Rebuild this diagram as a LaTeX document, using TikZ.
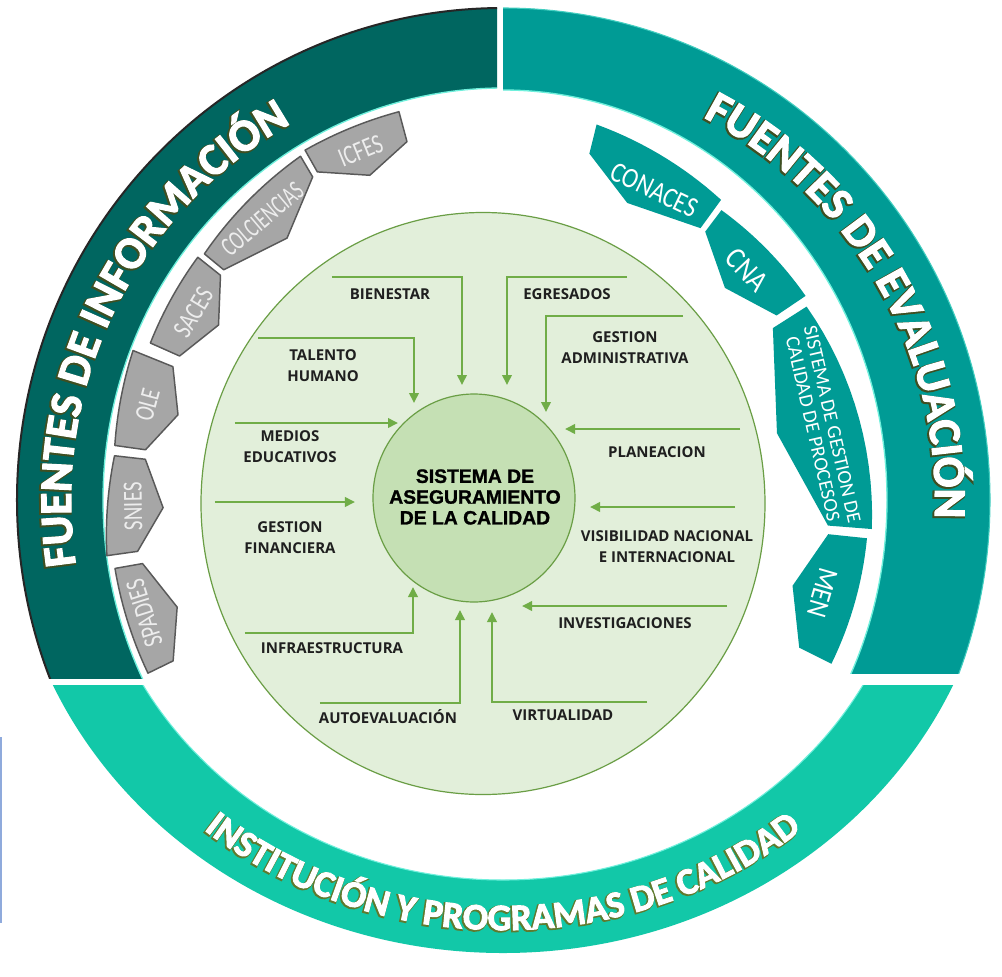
\documentclass[tikz,border=0pt]{standalone}
\usepackage{fontspec}
\usepackage{graphicx}
\usetikzlibrary{decorations.text,arrows.meta,shapes.geometric}
\newfontfamily\carlito{Carlito}
\newfontfamily\osans{Open Sans}
\newfontface\corefont[FakeBold=1.2]{Liberation Sans Bold}
\newfontface\ringfill[FakeBold=2.5]{Carlito Bold}
\newfontface\ringline[FakeBold=7]{Carlito Bold}
\definecolor{darkteal}{HTML}{006660}
\definecolor{midteal}{HTML}{009B95}
\definecolor{brightteal}{HTML}{12C8A8}
\definecolor{tabgray}{HTML}{A6A6A6}
\definecolor{tabedge}{HTML}{595959}
\definecolor{paleg}{HTML}{E2EFDA}
\definecolor{midg}{HTML}{C5E0B4}
\definecolor{arrowg}{HTML}{70AD47}
\definecolor{edgeg}{HTML}{6A9E45}
\definecolor{olivec}{HTML}{3E4F22}
\definecolor{olivel}{HTML}{5F7A2E}
\definecolor{glowc}{HTML}{6FF0DC}
\definecolor{stripblue}{HTML}{8FAADC}
\newcommand\ringbigA{\ringfill\fontsize{34}{40}\selectfont}
\newcommand\ringbigB{\ringline\fontsize{34}{40}\selectfont}
\newcommand\ringlowA{\ringfill\fontsize{28}{32}\selectfont}
\newcommand\ringlowB{\ringline\fontsize{28}{32}\selectfont}
\newcommand\tabshape[9]{%
  \path[#1] plot[domain=#2:#3, samples=16] (\x:{#4+(#5-#4)*(\x-(#2))/((#3)-(#2))}) -- (#3:#7) -- (#8:#9) -- (#2:#6) -- cycle;}
\begin{document}
\begin{tikzpicture}[x=0.75pt,y=0.75pt,
  graytab/.style={fill=tabgray, draw=tabedge, line width=1.1pt, line join=round},
  tealtab/.style={fill=midteal},
  flow/.style={draw=arrowg, line width=1.9pt, -{Triangle[length=7.5pt,width=7pt]}},
  lbl/.style={font=\osans\bfseries\fontsize{11.25}{15.75}\selectfont, align=center, text=black!88, inner sep=0pt},
  graylbl/.style={text=white!93!black, inner sep=0pt, font=\carlito\fontsize{16.5}{18}\selectfont},
  teallbl/.style={text=white, inner sep=0pt},
]
\useasboundingbox (-503,-476) rectangle (499,500);
\fill[white] (-503,-476) rectangle (499,500);
\fill[stripblue] (-503,-237) rectangle (-501,-423);

% left arc
\begin{scope}
  \clip (-520,-178) rectangle (-6,520);
  \fill[darkteal, even odd rule] (0,0) ellipse[x radius=486, y radius=492] (0,0) ellipse[x radius=400, y radius=412];
  \draw[black!85, line width=1.5pt] (0,0) ellipse[x radius=486, y radius=492];
  \draw[glowc, line width=1pt] (0,0) ellipse[x radius=400, y radius=412];
\end{scope}
% right arc
\begin{scope}
  \clip (0,-173) rectangle (520,520);
  \fill[midteal, even odd rule] (0,0) ellipse[x radius=487, y radius=492] (0,0) ellipse[x radius=384, y radius=410];
  \draw[glowc, line width=1pt] (0,0) ellipse[x radius=384, y radius=410];
  \draw[glowc!60!midteal, line width=0.8pt] (0,0) ellipse[x radius=487, y radius=492];
\end{scope}
% bottom arc
\begin{scope}
  \clip (-520,-185) rectangle (520,-520);
  \fill[brightteal, even odd rule] (0,0) ellipse[x radius=493, y radius=453] (0,0) ellipse[x radius=412, y radius=380];
  \draw[glowc, line width=0.8pt] (0,0) ellipse[x radius=412, y radius=380];
\end{scope}

% gray tabs
\tabshape{graytab}{105}{119.5}{402}{402}{371}{377}{112.3}{351}
\tabshape{graytab}{120.5}{140.5}{399}{387}{375}{362}{129.5}{339.5}
\tabshape{graytab}{141.5}{156}{390}{386}{361}{354}{148.4}{334}
\tabshape{graytab}{158}{172}{399}{392}{356}{361}{165.3}{336}
\tabshape{graytab}{173.5}{188}{391}{400}{360}{369}{181.3}{340}
\tabshape{graytab}{190}{206}{394}{395}{366}{367}{198.2}{343}
\node[graylbl, rotate=22.2] (icfes) at (112.2:377) {\scalebox{0.95}[1.25]{ICFES}};
\node[graylbl, rotate=40.3] (colciencias) at (130.6:370) {\scalebox{0.84}[1.25]{COLCIENCIAS}};
\node[graylbl, rotate=58.8] (saces) at (148.8:362) {\scalebox{0.95}[1.25]{SACES}};
\node[graylbl, rotate=75] (ole) at (165:368) {\scalebox{0.95}[1.25]{OLE}};
\node[graylbl, rotate=91] (snies) at (181:370) {\scalebox{0.95}[1.25]{SNIES}};
\node[graylbl, rotate=107.5] (spadies) at (197.5:376) {\scalebox{0.95}[1.25]{SPADIES}};

% teal tabs
\tabshape{tealtab}{54}{76}{371}{387}{336}{357}{67.3}{322}
\tabshape{tealtab}{34}{53}{365}{363}{330}{336}{43.7}{307}
\tabshape{tealtab}{-4.5}{32.5}{370}{360}{326}{320}{13.7}{282}
\tabshape{tealtab}{-26.5}{-6}{367}{366}{331}{327}{-16.5}{302}
\node[teallbl, rotate=-25.5, font=\carlito\fontsize{18}{22}\selectfont] (conaces) at (64:345) {\scalebox{1}[1.2]{CONACES}};
\node[teallbl, rotate=-46.7, font=\carlito\fontsize{20}{22}\selectfont] (cna) at (43.3:335) {\scalebox{1}[1.15]{CNA}};
\node[teallbl, rotate=-77.1, align=center, font=\carlito\fontsize{15}{15}\selectfont] (sgc) at (12.9:328) {SISTEMA DE GESTION DE\\CALIDAD DE PROCESOS};
\node[teallbl, rotate=-106.2, font=\carlito\fontsize{19}{21}\selectfont] (men) at (-16.2:333) {\scalebox{1}[1.15]{MEN}};

% ring texts: outline copy (emboldened, slightly offset) then white
\foreach \dx/\dy/\c/\f in {-1/-1/olivec/\ringbigB,0/0/white/\ringbigA}{
  \path[shift={(\dx,\dy)}, decorate, decoration={text along path, text align=center, text color=\c, text={|\f|FUENTES DE INFORMACIÓN}}] (204:432) arc[start angle=204, end angle=104, radius=432];
  \path[shift={(\dx,\dy)}, decorate, decoration={text along path, text align=center, text color=\c, text={|\f|FUENTES DE EVALUACIÓN}}] (80:432) arc[start angle=80, end angle=-20, radius=432];
}
\foreach \dx/\dy/\c/\f in {-1/-1/olivel/\ringlowB,0/0/white/\ringlowA}{
  \path[shift={(\dx,\dy)}, decorate, decoration={text along path, text align=center, text color=\c, text={|\f|INSTITUCIÓN Y PROGRAMAS DE CALIDAD}}] (200:466 and 430) arc[start angle=200, end angle=340, x radius=466, y radius=430];
}

% inner circles
\fill[paleg, draw=edgeg, line width=0.9pt] (-20,-3.5) ellipse[x radius=282, y radius=291];
\node[ellipse, draw=edgeg, fill=midg, line width=0.9pt, minimum width=151.5pt, minimum height=156pt, inner sep=0pt] (core) at (-29,2) {};
\node[font=\corefont\fontsize{14.5}{15.6}\selectfont, align=center, inner sep=0pt] (coretext) at (-28,3) {SISTEMA DE\\ASEGURAMIENTO\\DE LA CALIDAD};

% arrow coordinates
\coordinate (bienS) at (-171,223); \coordinate (bienC) at (-41,223); \coordinate (bienT) at (-41,115);
\coordinate (taleS) at (-245,162); \coordinate (taleC) at (-89,162); \coordinate (taleT) at (-89,97);
\coordinate (mediS) at (-268,77); \coordinate (mediT) at (-105,77);
\coordinate (egreS) at (124,223); \coordinate (egreC) at (4,223); \coordinate (egreT) at (4,115);
\coordinate (gadmS) at (180,184); \coordinate (gadmC) at (43,184); \coordinate (gadmT) at (43,88);
\coordinate (planS) at (237,71); \coordinate (planT) at (62,71);
\coordinate (gfinS) at (-288,-2); \coordinate (gfinT) at (-148,-2);
\coordinate (infrS) at (-258,-133); \coordinate (infrC) at (-90,-133); \coordinate (infrT) at (-90,-87);
\coordinate (autoS) at (-183,-203); \coordinate (autoC) at (-43,-203); \coordinate (autoT) at (-43,-110);
\coordinate (visiS) at (232,-7); \coordinate (visiT) at (87,-7);
\coordinate (inveS) at (224,-106); \coordinate (inveT) at (19,-106);
\coordinate (virtS) at (144,-202); \coordinate (virtC) at (-11,-202); \coordinate (virtT) at (-11,-112);

\draw[flow] (bienS) -- (bienC) -- (bienT);
\draw[flow] (taleS) -- (taleC) -- (taleT);
\draw[flow] (mediS) -- (mediT);
\draw[flow] (egreS) -- (egreC) -- (egreT);
\draw[flow] (gadmS) -- (gadmC) -- (gadmT);
\draw[flow] (planS) -- (planT);
\draw[flow] (gfinS) -- (gfinT);
\draw[flow] (infrS) -- (infrC) -- (infrT);
\draw[flow] (autoS) -- (autoC) -- (autoT);
\draw[flow] (visiS) -- (visiT);
\draw[flow] (inveS) -- (inveT);
\draw[flow] (virtS) -- (virtC) -- (virtT);

% labels
\node[lbl] (bien) at (-113,206) {BIENESTAR};
\node[lbl] (tale) at (-180,134) {TALENTO\\HUMANO};
\node[lbl] (medi) at (-213,53) {MEDIOS\\EDUCATIVOS};
\node[lbl] (egre) at (64,206) {EGRESADOS};
\node[lbl] (gadm) at (122,152) {GESTION\\ADMINISTRATIVA};
\node[lbl] (plan) at (154,48) {PLANEACION};
\node[lbl] (gfin) at (-213,-38) {GESTION\\FINANCIERA};
\node[lbl] (infr) at (-171,-148) {INFRAESTRUCTURA};
\node[lbl] (auto) at (-115,-217) {AUTOEVALUACIÓN};
\node[lbl] (visi) at (164,-47) {VISIBILIDAD NACIONAL\\E INTERNACIONAL};
\node[lbl] (inve) at (122,-123) {INVESTIGACIONES};
\node[lbl] (virt) at (60,-215) {VIRTUALIDAD};
\end{tikzpicture}
\end{document}
